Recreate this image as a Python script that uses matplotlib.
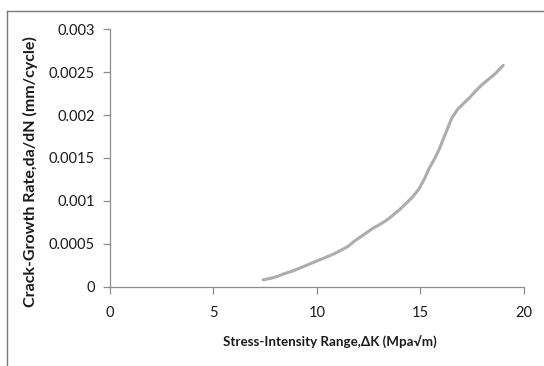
import matplotlib
matplotlib.use("Agg")
import matplotlib.pyplot as plt
from matplotlib.lines import Line2D

# stress-intensity range (MPa sqrt m) and crack growth rate (mm/cycle)
delta_k = [7.4, 7.8, 8.1, 8.4, 8.8, 9.2, 9.6, 10.0, 10.4, 10.8, 11.2, 11.5,
           11.8, 12.1, 12.4, 12.7, 13.0, 13.4, 13.7, 14.0, 14.3, 14.6, 14.9,
           15.2, 15.4, 15.7, 15.9, 16.2, 16.5, 16.8, 17.1, 17.4, 17.7, 18.0,
           18.3, 18.6, 19.0]
growth_rate = [0.00008, 0.00010, 0.00012, 0.00015, 0.00018, 0.00022, 0.00026,
               0.00030, 0.00034, 0.00038, 0.00043, 0.00047, 0.00053, 0.00058,
               0.00063, 0.00068, 0.00072, 0.00078, 0.00084, 0.00090, 0.00097,
               0.00104, 0.00113, 0.00126, 0.00137, 0.00150, 0.00160, 0.00178,
               0.00196, 0.00207, 0.00214, 0.00221, 0.00229, 0.00236, 0.00242,
               0.00248, 0.00258]

x_ticks = [0, 5, 10, 15, 20]
y_ticks = [0, 0.0005, 0.001, 0.0015, 0.002, 0.0025, 0.003]
y_labels = ["0", "0.0005", "0.001", "0.0015", "0.002", "0.0025", "0.003"]

plt.rcParams['font.family'] = ['Lato', 'DejaVu Sans']

fig = plt.figure(figsize=(5.44, 3.66), dpi=100)
ax = fig.add_axes([0.2022, 0.2167, 0.761, 0.7033])

ax.plot(delta_k, growth_rate, color="#acacac", lw=2.2, solid_capstyle="round")

ax.set_xlim(0, 20)
ax.set_ylim(0, 0.003)
ax.set_xticks(x_ticks)
ax.set_yticks(y_ticks)
ax.set_yticklabels(y_labels)

for side in ("top", "right"):
    ax.spines[side].set_visible(False)
for side in ("left", "bottom"):
    ax.spines[side].set_color("#8c8c8c")
    ax.spines[side].set_linewidth(0.9)
ax.tick_params(axis="both", direction="out", length=5, width=0.9,
               color="#8c8c8c", labelsize=10.5, labelcolor="#1a1a1a")
ax.tick_params(axis="x", pad=9)
ax.tick_params(axis="y", pad=6)

ax.set_xlabel("Stress-Intensity Range,\u0394K (Mpa\u221am)", fontsize=9.6,
              fontweight="bold", color="#1a1a1a")
ax.set_ylabel("Crack-Growth Rate,da/dN (mm/cycle)", fontsize=11.5,
              fontweight="bold", color="#1a1a1a")
ax.xaxis.set_label_coords(0.531, -0.19)
ax.yaxis.set_label_coords(-0.174, 0.447)

# outer chart frame, only top and left edges
fig.add_artist(Line2D([0.013, 1.0], [0.970, 0.970], transform=fig.transFigure,
                      color="#7a7a7a", lw=1.0))
fig.add_artist(Line2D([0.013, 0.013], [0.0, 0.970], transform=fig.transFigure,
                      color="#7a7a7a", lw=1.0))

fig.savefig("out.png", dpi=100)
